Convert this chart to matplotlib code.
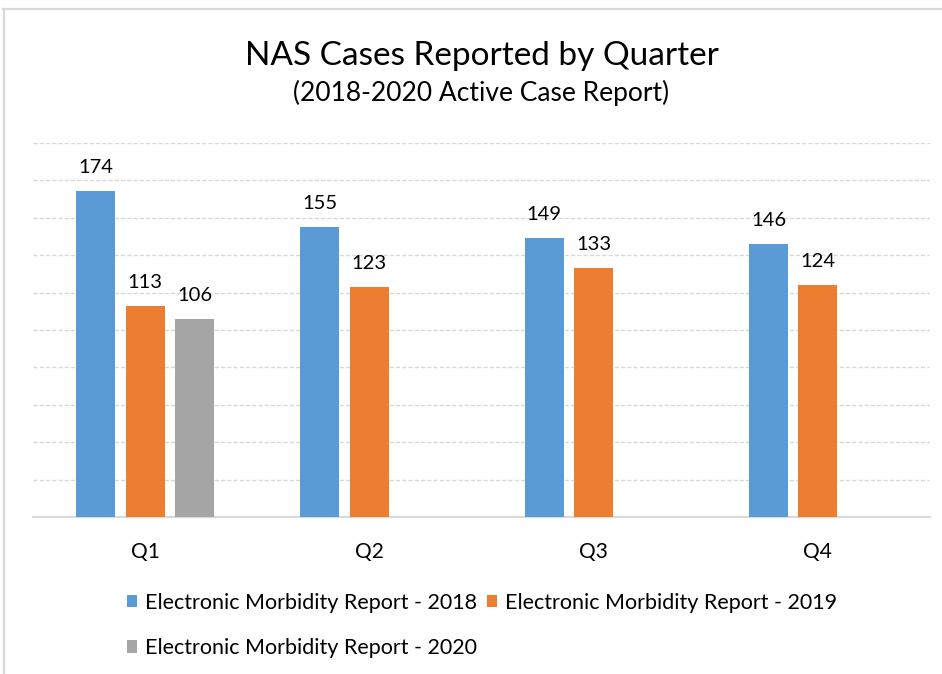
import numpy as np
import matplotlib.pyplot as plt
from matplotlib.lines import Line2D

quarters = ["Q1", "Q2", "Q3", "Q4"]
series_names = ["Electronic Morbidity Report - 2018",
                "Electronic Morbidity Report - 2019",
                "Electronic Morbidity Report - 2020"]
cases_2018 = [174, 155, 149, 146]
cases_2019 = [113, 123, 133, 124]
cases_2020 = [106, np.nan, np.nan, np.nan]
colors = ["#5B9BD5", "#ED7D31", "#A5A5A5"]

plt.rcParams['font.family'] = ['Lato', 'DejaVu Sans']

W, H = 942, 674
fig = plt.figure(figsize=(W / 100, H / 100), dpi=100)
ax = fig.add_axes([33 / W, 1 - 517.3 / H, (930 - 33) / W, (517.3 - 142.7) / H])

x = np.arange(len(quarters))
width = 0.174
step = 0.2205
handles = []
for i, (vals, name, c) in enumerate(zip([cases_2018, cases_2019, cases_2020], series_names, colors)):
    bars = ax.bar(x + (i - 1) * step, vals, width, color=c, label=name, zorder=3)
    handles.append(bars)
    for xi, v in zip(x + (i - 1) * step, vals):
        if np.isnan(v):
            continue
        ax.annotate(str(int(v)), (xi, v), xytext=(0, 13), textcoords="offset points",
                    ha="center", va="baseline", fontsize=14.5, color="#000000")

ax.set_xlim(-0.5, 3.5)
ax.set_ylim(0, 200)
ax.set_yticks(np.arange(20, 201, 20))
ax.yaxis.grid(True, color="#D9D9D9", linestyle=(0, (3, 1.5)), linewidth=1.0, zorder=0)
ax.tick_params(axis="y", left=False, labelleft=False)
ax.tick_params(axis="x", bottom=False, labelsize=15, pad=14)
ax.set_xticks(x)
ax.set_xticklabels(quarters)
for s in ["top", "right", "left"]:
    ax.spines[s].set_visible(False)
ax.spines["bottom"].set_color("#D9D9D9")
ax.spines["bottom"].set_linewidth(1.6)

# title and subtitle
cx = (33 + 930) / 2 / W
fig.text(cx, 1 - 65 / H, "NAS Cases Reported by Quarter", ha="center", va="baseline", fontsize=24)
fig.text(cx, 1 - 101 / H, "(2018-2020 Active Case Report)", ha="center", va="baseline", fontsize=19)

# legend: row-major order (2018, 2019 / 2020)
leg = fig.legend([handles[0], handles[2], handles[1]],
                 [series_names[0], series_names[2], series_names[1]],
                 ncol=2, loc="upper left", bbox_to_anchor=(118 / W, 1 - 584 / H),
                 frameon=False, fontsize=15.5, handlelength=0.5, handleheight=0.5,
                 handletextpad=0.35, columnspacing=0.45, labelspacing=1.18, borderaxespad=0)

# chart area border (top and left only visible)
fig.add_artist(Line2D([3 / W, 1], [1 - 8.5 / H, 1 - 8.5 / H], color="#D9D9D9", linewidth=1.6))
fig.add_artist(Line2D([4 / W, 4 / W], [0, 1 - 8.5 / H], color="#D9D9D9", linewidth=1.6))

fig.savefig("out.png", dpi=100)
